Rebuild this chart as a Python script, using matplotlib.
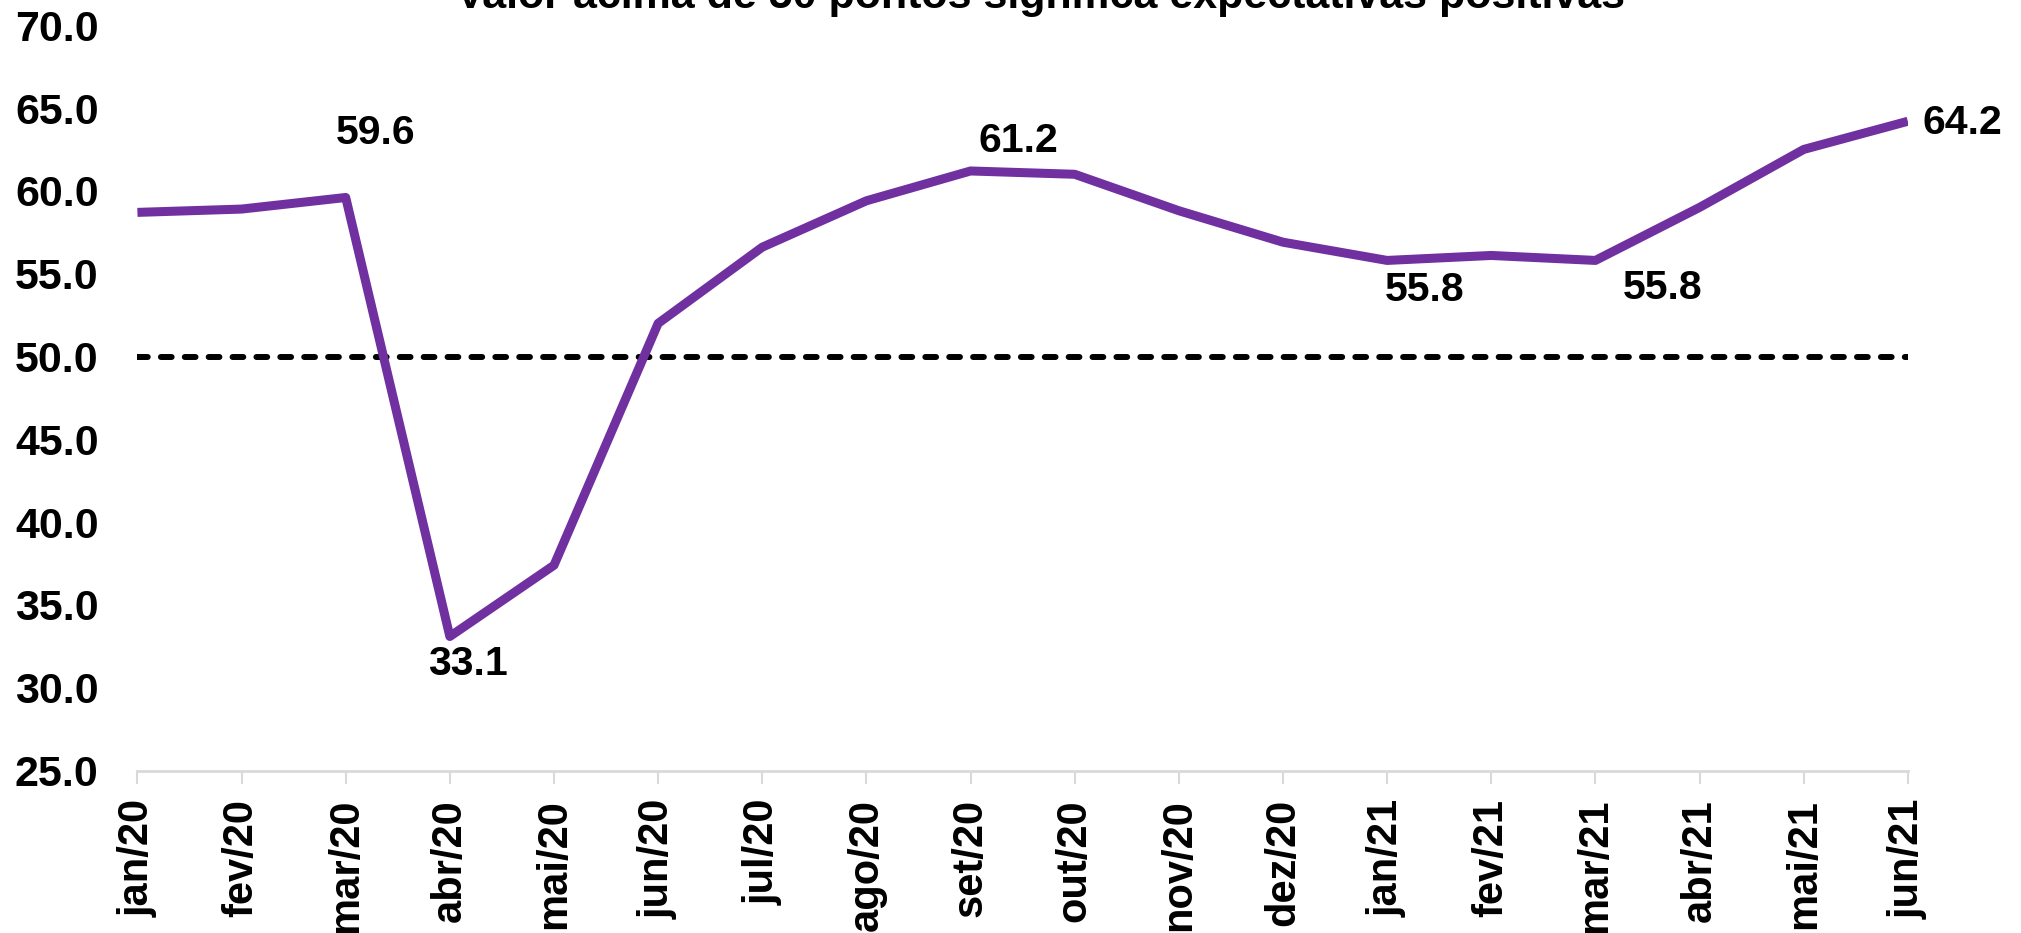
import matplotlib
matplotlib.use("Agg")
import matplotlib.pyplot as plt

meses = ["jan/20", "fev/20", "mar/20", "abr/20", "mai/20", "jun/20", "jul/20", "ago/20",
         "set/20", "out/20", "nov/20", "dez/20", "jan/21", "fev/21", "mar/21", "abr/21",
         "mai/21", "jun/21"]
indice = [58.7, 58.9, 59.6, 33.1, 37.4, 52.0, 56.6, 59.4, 61.2, 61.0, 58.8, 56.9,
          55.8, 56.1, 55.8, 59.0, 62.5, 64.2]
yticks = [25, 30, 35, 40, 45, 50, 55, 60, 65, 70]

# rótulos: (índice do mês, deslocamento em pixels)
rotulos = [(2, (30, 64)), (3, (18, -28)), (8, (48, 30)), (12, (37, -30)), (14, (67, -28))]

roxo = "#7030A0"
fonte = "Liberation Sans"
fig = plt.figure(figsize=(20.21, 9.33), dpi=100)
ax = fig.add_axes([0.068, 0.174, 0.876, 0.799])

x = list(range(len(meses)))
ax.plot(x, indice, color=roxo, lw=6.5, solid_joinstyle="round", solid_capstyle="butt", zorder=3)
ax.plot([x[0], x[-1]], [50, 50], color="black", lw=4.3, dashes=(1.8, 2.2),
        dash_capstyle="round", zorder=2)

for i, (dx, dy) in rotulos:
    ax.annotate(f"{indice[i]:.1f}", (x[i], indice[i]), xytext=(dx, dy), textcoords="offset pixels",
                ha="center", va="center", fontsize=29.5, fontweight="bold", family=fonte)
ax.annotate(f"{indice[-1]:.1f}", (x[-1], indice[-1]), xytext=(15, -2), textcoords="offset pixels",
            ha="left", va="center", fontsize=29.5, fontweight="bold", family=fonte)

ax.set_xlim(0, len(meses) - 1)
ax.set_ylim(25, 70)
ax.set_yticks(yticks)
ax.set_yticklabels([f"{v:.1f}" for v in yticks], fontsize=31, fontweight="bold", family=fonte)
ax.set_xticks(x)
ax.set_xticklabels(meses, rotation=90, fontsize=30, fontweight="bold", family=fonte)
ax.tick_params(axis="y", length=0, pad=28)
ax.tick_params(axis="x", length=9.4, width=1.5, color="#d9d9d9", pad=11)
for s in ["left", "right", "top"]:
    ax.spines[s].set_visible(False)
ax.spines["bottom"].set_color("#d9d9d9")
ax.spines["bottom"].set_linewidth(2)

fig.text(0.515, 0.9914, "Valor acima de 50 pontos significa expectativas positivas",
         ha="center", va="baseline", fontsize=31, fontweight="bold", family=fonte)

fig.savefig("out.png", dpi=100)
